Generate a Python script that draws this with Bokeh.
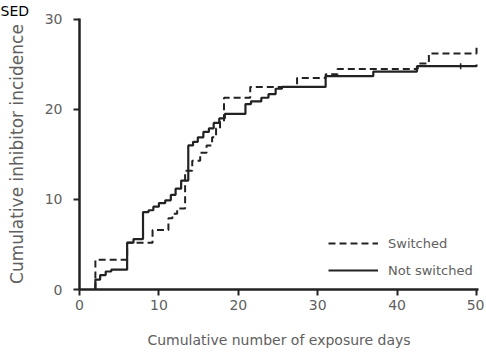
from bokeh.plotting import figure
from bokeh.models import Legend, LegendItem, Title, FixedTicker, Range1d
from bokeh.embed import file_html
from bokeh.resources import INLINE

# Data
switched_x = [2, 2, 6.0, 9.2, 11.2, 11.7, 12.3, 13.3, 14.2, 15.2, 16.0, 16.7, 17.2, 17.7,
              18.2, 21.5, 27.4, 31.0, 32.5, 42.6, 44.0, 50]
switched_y = [0, 3.3, 5.2, 6.6, 7.9, 8.4, 9.0, 13.2, 14.3, 15.2, 16.0, 16.9, 17.9, 18.7,
              21.3, 22.5, 23.5, 23.9, 24.5, 25.1, 26.2, 27.2]

notsw_x = [2, 2, 2.6, 3.3, 4.0, 6.0, 6.8, 8.0, 8.7, 9.3, 10.0, 10.8, 11.5, 12.1, 12.8,
           13.7, 14.3, 14.9, 15.6, 16.3, 16.9, 17.6, 18.3, 20.9, 21.6, 22.9, 23.8, 24.7,
           25.5, 31.0, 37.0, 42.5, 50]
notsw_y = [0, 1.1, 1.6, 2.0, 2.2, 5.2, 5.6, 8.6, 8.8, 9.2, 9.6, 9.9, 10.5, 11.2, 12.1,
           16.0, 16.4, 16.9, 17.5, 17.9, 18.5, 19.0, 19.5, 20.6, 20.9, 21.3, 21.7, 22.3,
           22.5, 23.7, 24.2, 24.8, 25.0]

censor_x = [48]
censor_y = [24.8]

x_ticks = [0, 10, 20, 30, 40, 50]
y_ticks = [0, 10, 20, 30]

FONT = "DejaVu Sans"
GREY = "#606060"
INK = "#222222"

W, H = 484, 350
p = figure(width=W, height=H, output_backend="svg", toolbar_location=None,
           x_range=Range1d(0, 50.25), y_range=Range1d(0, 30.1),
           min_border_left=79, min_border_right=W - 478, min_border_top=17,
           min_border_bottom=H - 290)
p.outline_line_color = None
p.grid.visible = False
p.background_fill_color = "white"

r1 = p.step(switched_x, switched_y, mode="after", line_color=INK, line_width=2,
            line_dash="7 4")
r2 = p.step(notsw_x, notsw_y, mode="after", line_color=INK, line_width=2.2)
p.scatter(censor_x, censor_y, marker="dash", angle=1.5708, size=6, line_color=INK, line_width=1.5)

for ax in (p.xaxis[0], p.yaxis[0]):
    ax.axis_line_color = INK
    ax.axis_line_width = 2.5
    ax.major_tick_line_color = INK
    ax.major_tick_line_width = 2
    ax.major_tick_out = 6
    ax.major_tick_in = 0
    ax.minor_tick_line_color = None
    ax.major_label_text_font = FONT
    ax.major_label_text_font_size = "14px"
    ax.major_label_text_color = GREY
    ax.axis_label_text_font = FONT
    ax.axis_label_text_color = GREY
    ax.axis_label_text_font_style = "normal"

p.xaxis.axis_label_text_font_size = "14px"
p.yaxis.axis_label_text_font_size = "17px"
p.xaxis.ticker = FixedTicker(ticks=x_ticks)
p.yaxis.ticker = FixedTicker(ticks=y_ticks)
p.xaxis.axis_label = "Cumulative number of exposure days"
p.yaxis.axis_label = "Cumulative inhibitor incidence"
p.xaxis.major_label_standoff = 4
p.yaxis.major_label_standoff = 11
p.xaxis.axis_label_standoff = 19
p.yaxis.axis_label_standoff = 15

legend = Legend(items=[LegendItem(label="Switched", renderers=[r1]),
                       LegendItem(label="Not switched", renderers=[r2])],
                location=(249, 9), orientation="vertical")
legend.background_fill_alpha = 0
legend.border_line_color = None
legend.padding = 0
legend.margin = 0
legend.spacing = 7
legend.label_height = 20
legend.glyph_height = 20
legend.glyph_width = 50
legend.label_text_font = FONT
legend.label_text_font_size = "13px"
legend.label_text_color = GREY
legend.label_standoff = 10
p.add_layout(legend)

p.add_layout(Title(text="SED", align="left", offset=-79, standoff=0,
                   text_font=FONT, text_font_size="14px", text_font_style="normal",
                   text_color="black"), "above")

open("out.html", "w").write(file_html(p, INLINE))
